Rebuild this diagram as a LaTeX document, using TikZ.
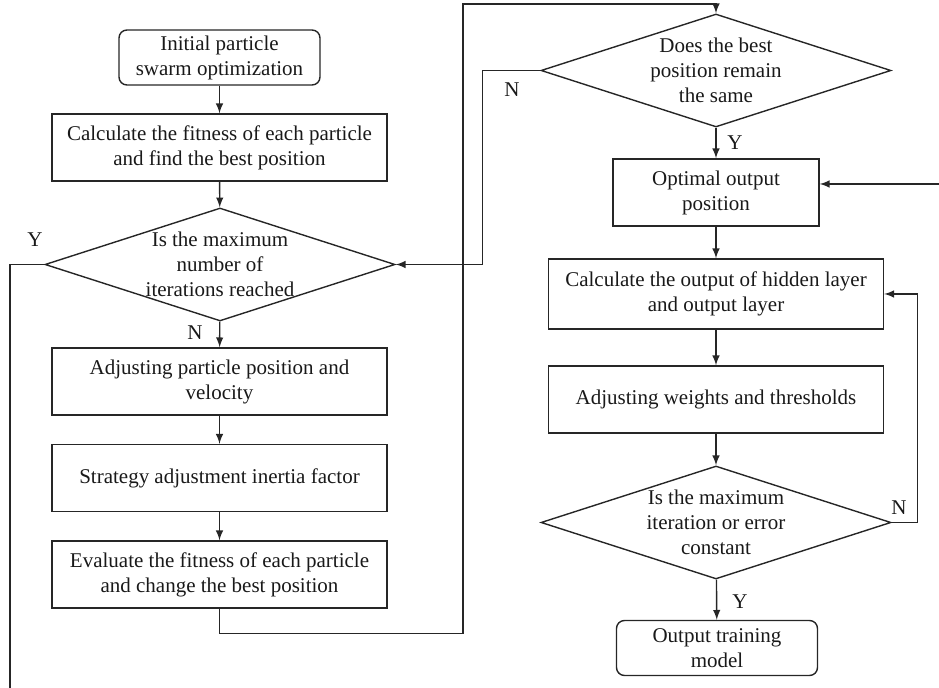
\documentclass[tikz,border=0pt]{standalone}
\usepackage{fontspec}
\setmainfont{Liberation Serif}
\usepackage{tikz}
\usetikzlibrary{arrows,calc,positioning,shapes.geometric}
\tikzset{
  line/.style={draw=black!85,line width=0.7pt},
  flow/.style={line,-latex},
  proc/.style={line,rectangle,align=center,minimum width=167.5pt,minimum height=33.5pt,inner sep=0pt,text=black!90},
  term/.style={proc,rounded corners=4pt,minimum width=100.5pt,minimum height=27.5pt},
  decide/.style={line,diamond,align=center,minimum width=175pt,minimum height=56.5pt,inner xsep=-25pt,inner ysep=-12pt,text=black!90},
  yn/.style={text=black!90,inner sep=0pt}
}
\begin{document}
\begin{tikzpicture}[x=0.5pt,y=-0.5pt,font=\fontsize{10.5}{12.5}\selectfont]
\useasboundingbox (0,0) rectangle (939,688);
\node[term] (init) at (219.5,57.5) {Initial particle\\swarm optimization};
\node[proc] (fit1) at (219.5,147.5) {Calculate the fitness of each particle\\and find the best position};
\node[decide] (maxit) at (220,264.5) {Is the maximum\\number of\\iterations reached};
\node[proc] (adjpv) at (219.5,381.5) {Adjusting particle position and\\velocity};
\node[proc] (inert) at (219.5,478) {Strategy adjustment inertia factor};
\node[proc] (evalb) at (219.5,574.5) {Evaluate the fitness of each particle\\and change the best position};
\node[decide] (same) at (716,70.5) {Does the best\\position remain\\the same};
\node[proc,minimum width=103pt] (opt) at (716,192.5) {Optimal output\\position};
\node[proc,minimum height=35pt] (calcout) at (716,294) {Calculate the output of hidden layer\\and output layer};
\node[proc] (adjw) at (716,399.5) {Adjusting weights and thresholds};
\node[decide] (err) at (716,522.5) {\raisebox{-3pt}{\parbox{80pt}{\centering Is the maximum\\iteration or error\\constant}}};
\node[term] (outm) at (717,648) {Output training\\model};
\coordinate (yout) at (10,688);
\coordinate (back) at (939,184);
\draw[flow] (init) -- (fit1);
\draw[flow] (fit1) -- (maxit);
\draw[flow] (maxit) -- (adjpv);
\draw[flow] (adjpv) -- (inert);
\draw[flow] (inert) -- (evalb);
\draw[flow] (evalb.south) -- ++(0,25) coordinate (lpa) -| (463,4) coordinate (lpb) -| (same.north);
\draw[flow] (same.west) -- ++(-58,0) coordinate (nb) |- (maxit.east);
\draw[line] (maxit.west) -| (yout);
\draw[flow] (same) -- (opt);
\draw[flow] (back) -- (back -| opt.east);
\draw[flow] (opt) -- (calcout);
\draw[flow] (calcout) -- (adjw);
\draw[flow] (adjw) -- (err);
\draw[flow] (err.east) -- ++(26,0) coordinate (na) |- (calcout.east);
\draw[flow] (err) -- (outm);
\node[yn] (y1) at (35,240) {Y};
\node[yn] (n1) at (195,333) {N};
\node[yn] (n2) at (512,90) {N};
\node[yn] (y2) at (735,143) {Y};
\node[yn] (n3) at (899,508) {N};
\node[yn] (y3) at (740,602) {Y};
\end{tikzpicture}
\end{document}
